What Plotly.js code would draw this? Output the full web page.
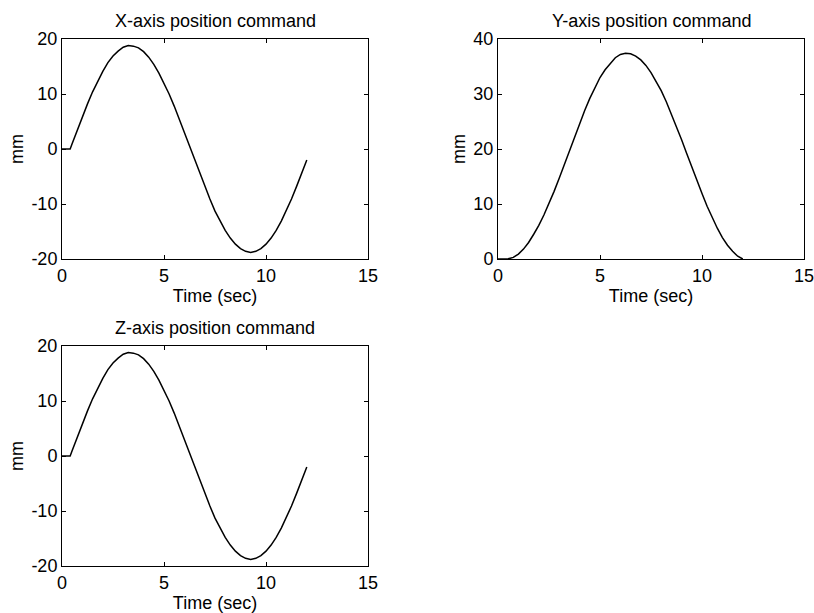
<!DOCTYPE html>
<html>
<head>
<meta charset="utf-8">
<script src="https://cdn.plot.ly/plotly-3.0.1.min.js"></script>
<style>
  html, body { margin: 0; padding: 0; background: #fff; }
  #chart { width: 814px; height: 613px; }
</style>
</head>
<body>
<div id="chart"></div>
<script>
// Time samples (sec)
const timeX = [0, 0.25, 0.4, 0.5, 0.75, 1, 1.25, 1.5, 1.75, 2, 2.25, 2.5, 2.75, 3, 3.25, 3.5, 3.75, 4, 4.25, 4.5, 4.75, 5, 5.25, 5.5, 5.75, 6, 6.25, 6.5, 6.75, 7, 7.25, 7.5, 7.75, 8, 8.25, 8.5, 8.75, 9, 9.25, 9.5, 9.75, 10, 10.25, 10.5, 10.75, 11, 11.25, 11.5, 11.75, 12];
// X-axis position command (mm)
const xPos = [0, 0, 0, 1.0, 3.5, 5.9, 8.2, 10.4, 12.4, 14.1, 15.7, 16.9, 17.8, 18.5, 18.8, 18.7, 18.4, 17.7, 16.7, 15.4, 13.8, 12.0, 10.0, 7.8, 5.4, 3.0, 0.5, -2.0, -4.5, -6.8, -9.1, -11.3, -13.2, -14.8, -16.2, -17.3, -18.1, -18.6, -18.8, -18.6, -18.1, -17.3, -16.2, -14.8, -13.1, -11.2, -9.1, -6.8, -4.4, -2.0];

const timeY = [0, 0.25, 0.5, 0.75, 1, 1.25, 1.5, 1.75, 2, 2.25, 2.5, 2.75, 3, 3.25, 3.5, 3.75, 4, 4.25, 4.5, 4.75, 5, 5.25, 5.5, 5.75, 6, 6.25, 6.5, 6.75, 7, 7.25, 7.5, 7.75, 8, 8.25, 8.5, 8.75, 9, 9.25, 9.5, 9.75, 10, 10.25, 10.5, 10.75, 11, 11.25, 11.5, 11.75, 12];
// Y-axis position command (mm)
const yPos = [0, 0, 0.03, 0.3, 0.9, 1.8, 3.0, 4.5, 6.1, 8.0, 10.0, 12.3, 14.7, 17.2, 19.7, 22.2, 24.6, 27.0, 29.2, 31.2, 33.0, 34.4, 35.6, 36.6, 37.2, 37.4, 37.3, 36.9, 36.2, 35.2, 33.9, 32.3, 30.6, 28.6, 26.4, 24.1, 21.7, 19.2, 16.7, 14.3, 11.9, 9.6, 7.5, 5.6, 3.9, 2.5, 1.4, 0.5, 0];

const timeZ = [0, 0.25, 0.4, 0.5, 0.75, 1, 1.25, 1.5, 1.75, 2, 2.25, 2.5, 2.75, 3, 3.25, 3.5, 3.75, 4, 4.25, 4.5, 4.75, 5, 5.25, 5.5, 5.75, 6, 6.25, 6.5, 6.75, 7, 7.25, 7.5, 7.75, 8, 8.25, 8.5, 8.75, 9, 9.25, 9.5, 9.75, 10, 10.25, 10.5, 10.75, 11, 11.25, 11.5, 11.75, 12];
// Z-axis position command (mm)
const zPos = [0, 0, 0, 1.0, 3.5, 5.9, 8.2, 10.4, 12.4, 14.1, 15.7, 16.9, 17.8, 18.5, 18.8, 18.7, 18.4, 17.7, 16.7, 15.4, 13.8, 12.0, 10.0, 7.8, 5.4, 3.0, 0.5, -2.0, -4.5, -6.8, -9.1, -11.3, -13.2, -14.8, -16.2, -17.3, -18.1, -18.6, -18.8, -18.6, -18.1, -17.3, -16.2, -14.8, -13.1, -11.2, -9.1, -6.8, -4.4, -2.0];

const xTicks = [0, 5, 10, 15];
const yTicksXZ = [-20, -10, 0, 10, 20];
const yTicksY = [0, 10, 20, 30, 40];

const panelTitles = ['X-axis position command', 'Y-axis position command', 'Z-axis position command'];
const xLabel = 'Time (sec)';
const yLabel = 'mm';

const FONT = '"Liberation Sans", Arial, Helvetica, sans-serif';
const FS = 18;
const lineStyle = {color: '#000', width: 1.5};

const traces = [
  {x: timeX, y: xPos, xaxis: 'x', yaxis: 'y', mode: 'lines', line: lineStyle, showlegend: false, hoverinfo: 'skip'},
  {x: timeY, y: yPos, xaxis: 'x2', yaxis: 'y2', mode: 'lines', line: lineStyle, showlegend: false, hoverinfo: 'skip'},
  {x: timeZ, y: zPos, xaxis: 'x3', yaxis: 'y3', mode: 'lines', line: lineStyle, showlegend: false, hoverinfo: 'skip'}
];

function xAxis(domain, anchor) {
  return {
    domain: domain, anchor: anchor, range: [0, 15],
    tickmode: 'array', tickvals: xTicks, ticktext: xTicks.map(String),
    ticks: 'inside', ticklen: 4, tickcolor: '#000', tickwidth: 1,
    showline: true, linecolor: '#000', linewidth: 1, mirror: 'ticks',
    showgrid: false, zeroline: false, automargin: false,
    ticklabeloverflow: 'allow',
    tickfont: {family: FONT, size: FS, color: '#000'},
    title: {text: xLabel, font: {family: FONT, size: FS, color: '#000'}, standoff: 0}
  };
}
function yAxis(domain, anchor, range, ticks) {
  return {
    domain: domain, anchor: anchor, range: range,
    tickmode: 'array', tickvals: ticks, ticktext: ticks.map(String),
    ticks: 'inside', ticklen: 4, tickcolor: '#000', tickwidth: 1,
    showline: true, linecolor: '#000', linewidth: 1, mirror: 'ticks',
    showgrid: false, zeroline: false, automargin: false,
    ticklabeloverflow: 'allow',
    tickfont: {family: FONT, size: FS, color: '#000'},
    title: {text: yLabel, font: {family: FONT, size: FS, color: '#000'}, standoff: 3}
  };
}

const leftDom = [62 / 814, 368 / 814];
const rightDom = [498 / 814, 804 / 814];
const topDom = [1 - 259 / 613, 1 - 39 / 613];
const botDom = [1 - 566 / 613, 1 - 346 / 613];

function titleAnn(i, xr, yr) {
  return {text: panelTitles[i], xref: xr + ' domain', yref: yr + ' domain', x: 0.5, y: 1,
    xanchor: 'center', yanchor: 'bottom', yshift: 6, showarrow: false,
    font: {family: FONT, size: FS, color: '#000'}};
}

const layout = {
  width: 814, height: 613,
  margin: {l: 0, r: 0, t: 0, b: 0},
  paper_bgcolor: '#fff', plot_bgcolor: '#fff',
  font: {family: FONT, color: '#000'},
  showlegend: false,
  xaxis: xAxis(leftDom, 'y'),
  yaxis: yAxis(topDom, 'x', [-20, 20], yTicksXZ),
  xaxis2: xAxis(rightDom, 'y2'),
  yaxis2: yAxis(topDom, 'x2', [0, 40], yTicksY),
  xaxis3: xAxis(leftDom, 'y3'),
  yaxis3: yAxis(botDom, 'x3', [-20, 20], yTicksXZ),
  annotations: [titleAnn(0, 'x', 'y'), titleAnn(1, 'x2', 'y2'), titleAnn(2, 'x3', 'y3')]
};

Plotly.newPlot('chart', traces, layout, {staticPlot: true, displayModeBar: false});
</script>
</body>
</html>
